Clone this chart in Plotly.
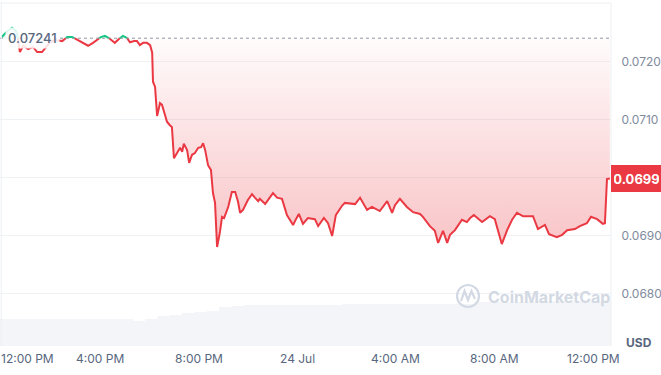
import numpy as np
import pandas as pd
import plotly.graph_objects as go

# ---------------- data ----------------
TIMES = [
    "2024-07-23 12:01", "2024-07-23 12:14", "2024-07-23 12:26", "2024-07-23 12:36", "2024-07-23 12:40",
    "2024-07-23 12:45", "2024-07-23 12:53", "2024-07-23 13:05", "2024-07-23 13:17", "2024-07-23 13:27",
    "2024-07-23 13:39", "2024-07-23 13:49", "2024-07-23 13:58", "2024-07-23 14:10", "2024-07-23 14:28",
    "2024-07-23 14:40", "2024-07-23 14:52", "2024-07-23 15:06", "2024-07-23 15:19", "2024-07-23 15:31",
    "2024-07-23 15:43", "2024-07-23 15:53", "2024-07-23 16:02", "2024-07-23 16:12", "2024-07-23 16:24",
    "2024-07-23 16:36", "2024-07-23 16:46", "2024-07-23 16:56", "2024-07-23 17:06", "2024-07-23 17:13",
    "2024-07-23 17:23", "2024-07-23 17:30", "2024-07-23 17:37", "2024-07-23 17:45", "2024-07-23 17:54",
    "2024-07-23 18:02", "2024-07-23 18:07", "2024-07-23 18:09", "2024-07-23 18:14", "2024-07-23 18:19",
    "2024-07-23 18:26", "2024-07-23 18:31", "2024-07-23 18:38", "2024-07-23 18:43", "2024-07-23 18:50",
    "2024-07-23 18:55", "2024-07-23 19:00", "2024-07-23 19:07", "2024-07-23 19:15", "2024-07-23 19:20",
    "2024-07-23 19:24", "2024-07-23 19:32", "2024-07-23 19:37", "2024-07-23 19:44", "2024-07-23 19:51",
    "2024-07-23 19:59", "2024-07-23 20:06", "2024-07-23 20:11", "2024-07-23 20:16", "2024-07-23 20:23",
    "2024-07-23 20:30", "2024-07-23 20:35", "2024-07-23 20:40", "2024-07-23 20:45", "2024-07-23 20:52",
    "2024-07-23 20:57", "2024-07-23 21:02", "2024-07-23 21:12", "2024-07-23 21:21", "2024-07-23 21:29",
    "2024-07-23 21:36", "2024-07-23 21:41", "2024-07-23 21:48", "2024-07-23 22:00", "2024-07-23 22:10",
    "2024-07-23 22:17", "2024-07-23 22:25", "2024-07-23 22:29", "2024-07-23 22:42", "2024-07-23 22:54",
    "2024-07-23 23:01", "2024-07-23 23:11", "2024-07-23 23:23", "2024-07-23 23:35", "2024-07-23 23:42",
    "2024-07-23 23:50", "2024-07-23 23:57", "2024-07-24 00:04", "2024-07-24 00:14", "2024-07-24 00:26",
    "2024-07-24 00:43", "2024-07-24 00:51", "2024-07-24 01:05", "2024-07-24 01:15", "2024-07-24 01:25",
    "2024-07-24 01:34", "2024-07-24 01:49", "2024-07-24 01:56", "2024-07-24 02:21", "2024-07-24 02:33",
    "2024-07-24 02:50", "2024-07-24 03:02", "2024-07-24 03:21", "2024-07-24 03:39", "2024-07-24 03:51",
    "2024-07-24 03:58", "2024-07-24 04:10", "2024-07-24 04:27", "2024-07-24 04:42", "2024-07-24 04:59",
    "2024-07-24 05:06", "2024-07-24 05:23", "2024-07-24 05:35", "2024-07-24 05:43", "2024-07-24 05:55",
    "2024-07-24 06:05", "2024-07-24 06:12", "2024-07-24 06:24", "2024-07-24 06:41", "2024-07-24 06:53",
    "2024-07-24 07:01", "2024-07-24 07:10", "2024-07-24 07:30", "2024-07-24 07:49", "2024-07-24 08:01",
    "2024-07-24 08:18", "2024-07-24 08:31", "2024-07-24 08:43", "2024-07-24 08:55", "2024-07-24 09:10",
    "2024-07-24 09:34", "2024-07-24 09:46", "2024-07-24 10:03", "2024-07-24 10:13", "2024-07-24 10:32",
    "2024-07-24 10:45", "2024-07-24 10:57", "2024-07-24 11:16", "2024-07-24 11:28", "2024-07-24 11:45",
    "2024-07-24 11:55", "2024-07-24 12:05", "2024-07-24 12:10", "2024-07-24 12:24", "2024-07-24 12:29",
    "2024-07-24 12:34", "2024-07-24 12:41",
]
PRICES = [
    0.07243, 0.07253, 0.07259, 0.07253, 0.07241,
    0.07217, 0.07228, 0.07222, 0.07226, 0.07217,
    0.07217, 0.07226, 0.07234, 0.07238, 0.07236,
    0.07243, 0.07243, 0.07238, 0.07233, 0.07228,
    0.07233, 0.07238, 0.07243, 0.07245, 0.07240,
    0.07233, 0.07240, 0.07245, 0.07241, 0.07234,
    0.07236, 0.07236, 0.07229, 0.07233, 0.07233,
    0.07229, 0.07216, 0.07166, 0.07157, 0.07107,
    0.07129, 0.07126, 0.07109, 0.07097, 0.07091,
    0.07088, 0.07034, 0.07043, 0.07052, 0.07045,
    0.07059, 0.07048, 0.07026, 0.07040, 0.07043,
    0.07052, 0.07053, 0.07060, 0.07048, 0.07022,
    0.07014, 0.06974, 0.06957, 0.06881, 0.06907,
    0.06933, 0.06931, 0.06950, 0.06976, 0.06976,
    0.06959, 0.06940, 0.06945, 0.06962, 0.06972,
    0.06966, 0.06960, 0.06964, 0.06955, 0.06967,
    0.06974, 0.06966, 0.06964, 0.06936, 0.06928,
    0.06919, 0.06929, 0.06938, 0.06921, 0.06931,
    0.06929, 0.06917, 0.06931, 0.06922, 0.06900,
    0.06936, 0.06952, 0.06957, 0.06955, 0.06966,
    0.06945, 0.06950, 0.06943, 0.06960, 0.06940,
    0.06953, 0.06964, 0.06950, 0.06941, 0.06938,
    0.06933, 0.06917, 0.06909, 0.06888, 0.06909,
    0.06888, 0.06902, 0.06910, 0.06928, 0.06924,
    0.06931, 0.06936, 0.06924, 0.06934, 0.06929,
    0.06886, 0.06910, 0.06928, 0.06940, 0.06934,
    0.06934, 0.06912, 0.06919, 0.06903, 0.06898,
    0.06902, 0.06910, 0.06912, 0.06917, 0.06922,
    0.06933, 0.06931, 0.06929, 0.06921, 0.06922,
    0.06998, 0.06999,
]
BASELINE = 0.07241
BASELINE_LABEL = "0.07241"
LAST_LABEL = "0.0699"

VOLUME_START = "2024-07-23 11:50"
VOLUME = [
    27, 27, 27, 27, 27, 27, 27, 27, 27, 27,
    27, 25, 27, 30, 31, 33, 34, 35, 39, 40,
    41, 41, 41, 41, 41, 41, 41, 41,
    42, 42, 42, 42, 42, 42, 42, 42, 42, 42, 42,
    44, 44, 44, 44, 45, 45, 45, 45, 45, 45, 45,
]

Y_TICKS = [0.0680, 0.0690, 0.0700, 0.0710, 0.0720]
Y_TICK_TEXT = ["0.0680", "0.0690", "", "0.0710", "0.0720"]
X_TICK_TIMES = ["2024-07-23 12:00", "2024-07-23 16:00", "2024-07-23 20:00", "2024-07-24 00:00",
                "2024-07-24 04:00", "2024-07-24 08:00", "2024-07-24 12:00"]
X_TICK_TEXT = ["12:00 PM", "4:00 PM", "8:00 PM", "24 Jul", "4:00 AM", "8:00 AM", "12:00 PM"]
X_RANGE = ["2024-07-23 11:56:35", "2024-07-24 12:43:48"]
Y_RANGE = [0.067103, 0.073017]

RED = "#ea3943"
GREEN = "#16c784"
FONT = "Inter"

# ------------- split at baseline crossings (for two-colour line) -------------
t = pd.to_datetime(TIMES).astype("int64").to_numpy()
p = np.array(PRICES, dtype=float)
tt, pp = [t[0]], [p[0]]
for i in range(1, len(p)):
    a, b = p[i - 1] - BASELINE, p[i] - BASELINE
    if a * b < 0:
        f = a / (a - b)
        tt.append(int(t[i - 1] + f * (t[i] - t[i - 1])))
        pp.append(BASELINE)
    tt.append(t[i])
    pp.append(p[i])
tx = pd.to_datetime(np.array(tt, dtype="int64"))
pp = np.array(pp)

below = np.minimum(pp, BASELINE)
above = np.maximum(pp, BASELINE)
red_line = [v if v <= BASELINE + 1e-12 else None for v in pp]
green_line = [v if v >= BASELINE - 1e-12 else None for v in pp]

vol_x = list(pd.date_range(VOLUME_START, periods=len(VOLUME), freq="30min")) + [pd.Timestamp(X_RANGE[1])]
vol_y = VOLUME + [VOLUME[-1]]

fig = go.Figure()

# volume (background, bottom)
fig.add_trace(go.Scatter(
    x=vol_x, y=vol_y, yaxis="y2", mode="lines", line=dict(width=0, shape="hv"),
    fill="tozeroy", fillcolor="#f3f5f8", hoverinfo="skip", showlegend=False,
))

# red fill between baseline and line
fig.add_trace(go.Scatter(x=tx, y=[BASELINE] * len(tx), mode="lines",
                         line=dict(width=0), hoverinfo="skip", showlegend=False))
fig.add_trace(go.Scatter(
    x=tx, y=below, mode="lines", line=dict(width=0), fill="tonexty",
    fillgradient=dict(type="vertical", start=0.0688, stop=BASELINE,
                      colorscale=[[0, "rgba(234,57,67,0.30)"], [1, "rgba(234,57,67,0.02)"]]),
    hoverinfo="skip", showlegend=False,
))
# green fill above baseline
fig.add_trace(go.Scatter(x=tx, y=[BASELINE] * len(tx), mode="lines",
                         line=dict(width=0), hoverinfo="skip", showlegend=False))
fig.add_trace(go.Scatter(
    x=tx, y=above, mode="lines", line=dict(width=0), fill="tonexty",
    fillcolor="rgba(22,199,132,0.12)", hoverinfo="skip", showlegend=False,
))

# lines
fig.add_trace(go.Scatter(x=tx, y=red_line, mode="lines", connectgaps=False,
                         line=dict(color=RED, width=2), showlegend=False))
fig.add_trace(go.Scatter(x=tx, y=green_line, mode="lines", connectgaps=False,
                         line=dict(color=GREEN, width=2), showlegend=False))

shapes = [
    # dotted baseline
    dict(type="line", xref="paper", x0=0, x1=1, yref="y", y0=BASELINE, y1=BASELINE,
         line=dict(color="#8f98a8", width=1, dash="dot"), layer="above"),
    # top border
    dict(type="line", xref="paper", x0=0, x1=1, yref="paper", y0=1, y1=1,
         line=dict(color="#eceff3", width=1)),
    # left border
    dict(type="line", xref="paper", x0=0.002, x1=0.002, yref="paper", y0=0, y1=1,
         line=dict(color="#eceff3", width=1)),
    # right border
    dict(type="line", xref="paper", x0=1, x1=1, yref="paper", y0=0, y1=1,
         line=dict(color="#eceff3", width=1)),
    # watermark circle
    dict(type="circle", xref="paper", yref="paper",
         x0=457 / 611, x1=479 / 611, y0=(346 - 307) / 343, y1=(346 - 285) / 343,
         line=dict(color="#d3d9e3", width=2.2), layer="above"),
    dict(type="path", xref="paper", yref="paper",
         path="M {:.4f},{:.4f} L {:.4f},{:.4f} L {:.4f},{:.4f} L {:.4f},{:.4f} L {:.4f},{:.4f}".format(
             461 / 611, (346 - 301) / 343, 464.5 / 611, (346 - 291) / 343,
             468 / 611, (346 - 300) / 343, 471.5 / 611, (346 - 291) / 343,
             475 / 611, (346 - 299) / 343),
         line=dict(color="#d3d9e3", width=2.2), layer="above"),
]

annotations = [
    dict(xref="paper", x=5 / 611, xanchor="left", yref="y", y=BASELINE, yanchor="middle",
         text=BASELINE_LABEL, showarrow=False, bgcolor="rgba(255,255,255,0.85)", borderpad=2,
         font=dict(family=FONT, size=13, color="#58667e", weight=500)),
    dict(xref="paper", x=1, xanchor="left", yref="y", y=PRICES[-1], yanchor="middle",
         text="<b>" + LAST_LABEL + "</b>", showarrow=False, bgcolor=RED, bordercolor=RED,
         borderpad=2, width=45, height=21, align="center",
         font=dict(family=FONT, size=13, color="white")),
    dict(xref="paper", x=1, xanchor="left", xshift=13, yref="paper", y=0, yanchor="middle", yshift=4,
         text="<b>USD</b>", showarrow=False, font=dict(family=FONT, size=12, color="#58667e")),
    dict(xref="paper", x=486 / 611, xanchor="left", yref="paper", y=(346 - 297) / 343, yanchor="middle",
         text="<b>CoinMarketCap</b>", showarrow=False,
         font=dict(family=FONT, size=16, color="#d3d9e3")),
]
for i, (xt, lab) in enumerate(zip(X_TICK_TIMES, X_TICK_TEXT)):
    anchor = "left" if i == 0 else "center"
    annotations.append(dict(
        xref="x", x=xt, xanchor=anchor, xshift=(-2 if i == 0 else 0),
        yref="paper", y=0, yanchor="top", yshift=-3,
        text=lab, showarrow=False, font=dict(family=FONT, size=12, color="#58667e"),
    ))

fig.update_layout(
    width=661, height=375,
    margin=dict(l=0, r=50, t=3, b=29),
    paper_bgcolor="white", plot_bgcolor="white",
    font=dict(family=FONT),
    xaxis=dict(type="date", range=X_RANGE, showgrid=False, showticklabels=False,
               zeroline=False, showline=False, ticks=""),
    yaxis=dict(side="right", range=Y_RANGE, tickvals=Y_TICKS, ticktext=Y_TICK_TEXT,
               showgrid=True, gridcolor="#eff2f5", gridwidth=1, zeroline=False,
               ticks="outside", ticklen=7, tickcolor="rgba(0,0,0,0)",
               tickfont=dict(family=FONT, size=12, color="#808a9d")),
    yaxis2=dict(overlaying="y", range=[0, 343], visible=False),
    shapes=shapes, annotations=annotations,
    showlegend=False,
)

fig.write_html("out.html")
